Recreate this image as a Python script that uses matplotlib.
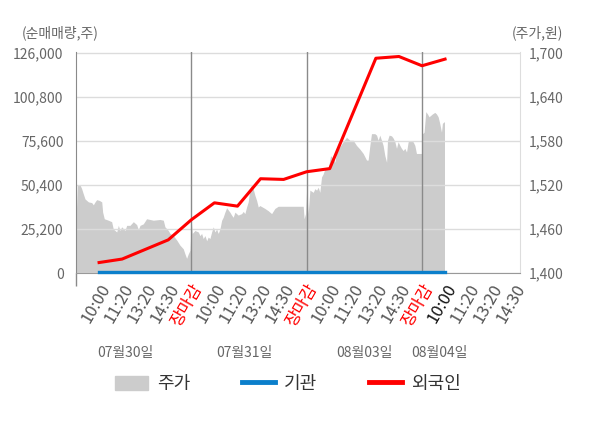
import matplotlib
matplotlib.use('Agg')
import matplotlib.pyplot as plt
from matplotlib.ticker import FuncFormatter
from matplotlib.patches import Patch
from matplotlib.lines import Line2D
from matplotlib.transforms import blended_transform_factory

plt.rcParams['font.family'] = ['Noto Sans CJK KR', 'DejaVu Sans']

# category labels on the x axis, 5 slots per trading day
tick_labels = ['10:00', '11:20', '13:20', '14:30', '장마감',
               '10:00', '11:20', '13:20', '14:30', '장마감',
               '10:00', '11:20', '13:20', '14:30', '장마감',
               '10:00', '11:20', '13:20', '14:30']
dates = ['07월30일', '07월31일', '08월03일', '08월04일']

# 주가 (원) - position counted in trading days from 07/30 open
price_pos = [0.000, 0.011, 0.035, 0.049, 0.063, 0.078, 0.107, 0.136, 0.150, 0.165,
             0.179, 0.202, 0.223, 0.231, 0.245, 0.280, 0.309, 0.323, 0.353, 0.367,
             0.381, 0.396, 0.425, 0.439, 0.468, 0.497, 0.526, 0.540, 0.555, 0.583,
             0.612, 0.670, 0.728, 0.757, 0.771, 0.800, 0.815, 0.844, 0.873, 0.901,
             0.930, 0.945, 0.959, 0.973, 0.988,
             1.000, 1.008, 1.031, 1.060, 1.075, 1.089, 1.103, 1.118, 1.133, 1.146,
             1.161, 1.176, 1.190, 1.205, 1.219, 1.233, 1.248, 1.263, 1.276, 1.291,
             1.306, 1.334, 1.349, 1.363, 1.378, 1.406, 1.436, 1.450, 1.464, 1.479,
             1.493, 1.508, 1.522, 1.536, 1.551, 1.566, 1.580, 1.594, 1.638, 1.666,
             1.696, 1.724, 1.753, 1.970, 1.978, 1.990,
             2.000, 2.013, 2.028, 2.057, 2.071, 2.086, 2.100, 2.114, 2.129, 2.143,
             2.158, 2.187, 2.207, 2.230, 2.245, 2.259, 2.288, 2.316, 2.346, 2.374,
             2.403, 2.432, 2.461, 2.490, 2.519, 2.533, 2.548, 2.562, 2.591, 2.606,
             2.620, 2.634, 2.649, 2.663, 2.678, 2.693, 2.701, 2.715, 2.736, 2.750,
             2.765, 2.779, 2.793, 2.808, 2.822, 2.837, 2.851, 2.866, 2.880, 2.895,
             2.923, 2.938, 2.952, 2.996,
             3.004, 3.018, 3.033, 3.047, 3.061, 3.076, 3.091, 3.111, 3.125, 3.140,
             3.154, 3.169, 3.177, 3.189, 3.195]
price = [1470, 1520, 1520, 1515, 1508, 1501, 1497, 1496, 1493, 1497,
         1500, 1499, 1497, 1483, 1474, 1472, 1470, 1460, 1456, 1465,
         1458, 1463, 1458, 1465, 1465, 1470, 1466, 1459, 1465, 1467,
         1474, 1472, 1473, 1472, 1463, 1458, 1454, 1451, 1445, 1438,
         1433, 1426, 1420, 1426, 1431,
         1470, 1454, 1458, 1456, 1451, 1454, 1447, 1451, 1444, 1449,
         1447, 1456, 1463, 1456, 1460, 1454, 1460, 1472, 1476, 1483,
         1489, 1483, 1479, 1476, 1483, 1479, 1481, 1484, 1481, 1490,
         1497, 1515, 1520, 1515, 1506, 1499, 1490, 1492, 1488, 1485,
         1481, 1488, 1491, 1491, 1474, 1481,
         1515, 1481, 1513, 1510, 1515, 1513, 1517, 1510, 1531, 1535,
         1542, 1542, 1560, 1556, 1551, 1565, 1572, 1579, 1585, 1581,
         1581, 1574, 1569, 1563, 1554, 1554, 1574, 1590, 1590, 1588,
         1581, 1588, 1581, 1574, 1560, 1551, 1581, 1588, 1587, 1584,
         1579, 1570, 1579, 1574, 1570, 1567, 1570, 1565, 1579, 1580,
         1579, 1574, 1563, 1563,
         1590, 1592, 1620, 1617, 1613, 1615, 1617, 1619, 1617, 1613,
         1604, 1592, 1604, 1606, 1606]

# 순매매량 (주), taken at label slots
flow_slot = [0, 1, 3, 4, 5, 6, 7, 8, 9, 10, 12, 13, 14, 15]
foreign = [6000, 8000, 19000, 30500, 40200, 38300, 54000, 53600, 58000, 59800,
           123000, 124000, 118700, 122500]
institution = [600, 600, 600, 600, 600, 600, 600, 600, 600, 600,
               600, 600, 600, 600]

flow_x = [(s + 1) * 0.2 for s in flow_slot]
tick_x = [(i + 1) * 0.2 for i in range(len(tick_labels))]

fig = plt.figure(figsize=(6, 4.28), dpi=100)
ax = fig.add_axes([0.1267, 0.3621, 0.74, 0.5164])
ax2 = ax.twinx()
ax.set_zorder(2)
ax2.set_zorder(1)
ax.patch.set_visible(False)
ax2.patch.set_facecolor('#f4f4f4')

# price area on right axis
ax2.fill_between(price_pos, price, 1400, color='#cccccc', lw=0)
ax2.set_ylim(1400, 1400 + 300 * 221 / 220)
ax2.set_yticks([1400, 1460, 1520, 1580, 1640, 1700])
ax2.yaxis.set_major_formatter(FuncFormatter(lambda v, p: f'{int(v):,}'))
ax2.tick_params(axis='y', length=0, pad=6, labelsize=10, labelcolor='#666666')
for s in ['top', 'left', 'bottom']:
    ax2.spines[s].set_visible(False)
ax2.spines['right'].set_color('#dddddd')

# net buying on left axis
ax.plot(flow_x, institution, color='#0b7fcb', lw=2.4, zorder=4, clip_on=False)
ax.plot(flow_x, foreign, color='#ff0000', lw=2.2, zorder=5)
ax.set_ylim(0, 126000 * 221 / 220)
ax.set_yticks([0, 25200, 50400, 75600, 100800, 126000])
ax.yaxis.set_major_formatter(FuncFormatter(lambda v, p: f'{int(v):,}'))
ax.tick_params(axis='y', length=0, pad=9, labelsize=10, labelcolor='#666666')
ax.yaxis.grid(True, color='#dcdcdc', lw=1)
ax.set_axisbelow(True)

ax.set_xlim(0, 3.85)
ax2.set_xlim(0, 3.85)
for d in [1, 2, 3]:
    ax.axvline(d, color='#8a8a8a', lw=1, zorder=1.5)
ax.set_xticks(tick_x)
ax.set_xticklabels(tick_labels, rotation=60, ha='right', va='top',
                   rotation_mode='anchor', fontsize=12)
ax.set_xticks([0, 1, 2, 3], minor=True)
ax.tick_params(axis='x', which='major', length=0, pad=6)
ax.tick_params(axis='x', which='minor', length=9, width=1, color='#8a8a8a')
for i, t in enumerate(ax.get_xticklabels()):
    if tick_labels[i] == '장마감':
        t.set_color('#ff0000')
    elif i == 15:
        t.set_color('#111111')
    else:
        t.set_color('#555555')

for s in ['top', 'right']:
    ax.spines[s].set_visible(False)
ax.spines['left'].set_color('#8a8a8a')
ax.spines['bottom'].set_color('#999999')

# date labels under each trading day
trans = blended_transform_factory(ax.transData, ax.transAxes)
date_x = [0.425, 1.464, 2.504, 3.154]
for x, d in zip(date_x, dates):
    ax.text(x, -0.362, d, transform=trans, ha='center', va='center',
            fontsize=10, color='#666666')

fig.text(60 / 600, 1 - 33 / 428, '(순매매량,주)', ha='center', va='center',
         fontsize=10, color='#666666')
fig.text(537 / 600, 1 - 33 / 428, '(주가,원)', ha='center', va='center',
         fontsize=10, color='#666666')

handles = [Patch(color='#cccccc'),
           Line2D([0], [0], color='#0b7fcb', lw=3.5),
           Line2D([0], [0], color='#ff0000', lw=3.5)]
leg = fig.legend(handles, ['주가', '기관', '외국인'], loc='center',
                 bbox_to_anchor=(0.48, 0.103), ncol=3, frameon=False,
                 fontsize=13, handlelength=1.8, handleheight=0.8,
                 handletextpad=0.5, columnspacing=2.9)
for t in leg.get_texts():
    t.set_color('#333333')

fig.savefig('out.png', dpi=100)
plt.close(fig)
